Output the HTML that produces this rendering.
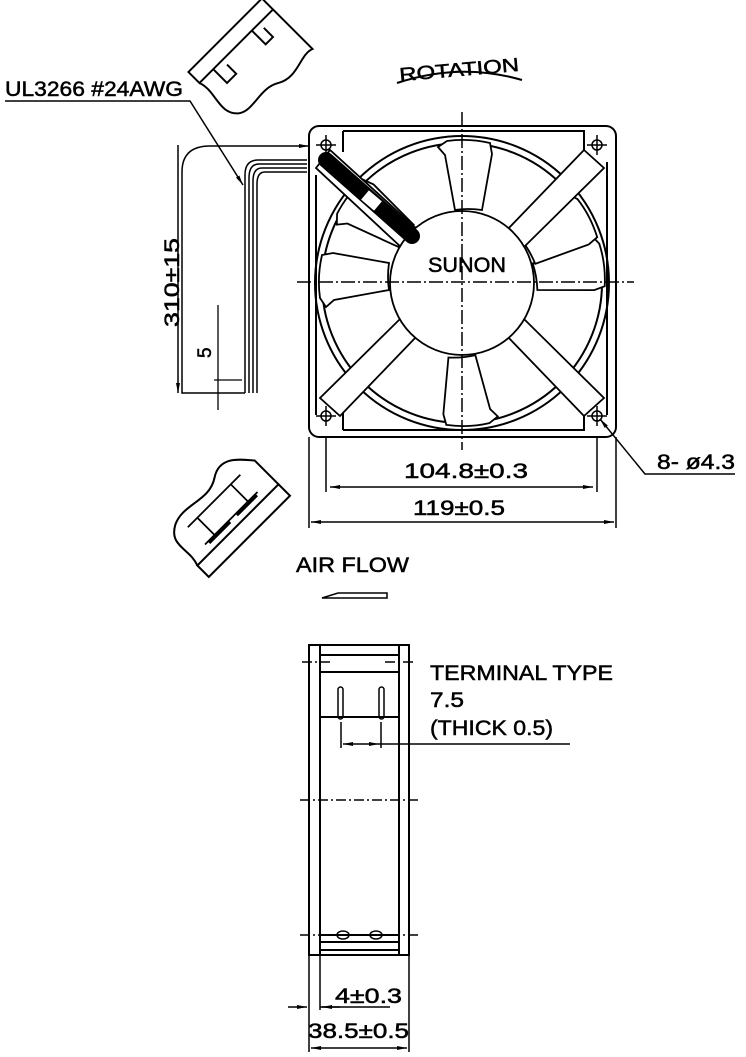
<!DOCTYPE html>
<html><head><meta charset="utf-8"><style>
html,body{margin:0;padding:0;background:#fff}
svg{display:block}
text{font-family:"Liberation Sans",Arial,sans-serif;fill:#000;stroke:#000;stroke-width:0.5}
</style></head><body>
<svg width="746" height="1057" viewBox="0 0 746 1057" xmlns="http://www.w3.org/2000/svg">
<defs>
<marker id="ar" markerWidth="10" markerHeight="6" refX="10" refY="3" orient="auto-start-reverse" markerUnits="userSpaceOnUse"><path d="M0,1 L10,3 L0,5 Z" fill="#000"/></marker>
</defs>
<g fill="none" stroke="#000" stroke-width="2">
<rect x="309" y="126" width="307" height="311" rx="10"/>
<path d="M343,131 H584 V152 M343,131 V152 M316,175 V415 M607,162 V415 M343,430 H584 V412 M343,430 V412"/>
<circle cx="462" cy="283" r="147"/>
<circle cx="462" cy="283" r="140"/>
<g stroke-width="1.8" fill="#fff">
<path id="bl" d="M447,141 L438,147 L445,155 L455,210 Q468,208 482,210 L492,154 L490,143 Q468,138 447,141 Z"/>
<use href="#bl" transform="rotate(-90 462 283)"/>
<use href="#bl" transform="rotate(-55 462 283)"/>
<use href="#bl" transform="rotate(80 462 283)"/>
<use href="#bl" transform="rotate(60 462 283)"/>
<use href="#bl" transform="rotate(175 462 283)"/>
</g>
<g fill="#fff" stroke-width="1.8">
<polygon points="584,150 604,168 523,248 507,230"/>
<polygon points="584,416 604,398 523,318 507,336"/>
<polygon points="340,416 320,398 401,318 417,336"/>
<polygon points="316,168 330,150 418,230 402,248"/>
</g>
<circle cx="462" cy="283" r="72" fill="#fff" stroke-width="1.8"/>
<g stroke-width="1.5"><circle cx="326" cy="145" r="5"/><circle cx="597" cy="145" r="5"/><circle cx="326" cy="416" r="5"/><circle cx="597" cy="416" r="5"/>
<path d="M316,145H336M326,135V155M587,145H607M597,135V155M316,416H336M326,406V426M587,416H607M597,406V426"/></g>
<path d="M462,112 V450 M297,282 H634" stroke-width="1.5" stroke-dasharray="14,3,2,3"/>
<path d="M326,160 L412,236" stroke-width="16" stroke-linecap="round"/>
<path d="M365,195 L378,206" stroke="#fff" stroke-width="12"/>
<path d="M326,437 V492 M597,437 V492 M309,437 V528 M616,437 V528" stroke-width="1.5"/>
<path d="M330,487 H593" stroke-width="1.5" marker-start="url(#ar)" marker-end="url(#ar)"/>
<path d="M311,522 H614" stroke-width="1.5" marker-start="url(#ar)" marker-end="url(#ar)"/>
<path d="M600,419 L645,474 H735" stroke-width="1.5" marker-start="url(#ar)"/>
<path d="M309,146 H210 Q182,146 182,172 V393 H245" stroke-width="1.5" marker-start="url(#ar)"/>
<path d="M307,160 H258 Q245,160 245,175 V393 M307,164 H259 Q249,164 249,178 V393 M307,168 H262 Q253,168 253,181 V393 M307,172 H265 Q257,172 257,184 V393" stroke-width="1.5"/>
<path d="M178,145 V393" stroke-width="1.5" marker-end="url(#ar)"/>
<path d="M218,305 V410 M214,380 H242" stroke-width="1.3"/>
<path d="M5,101 H190 L243,185" stroke-width="1.5" marker-end="url(#ar)"/>
<path d="M397,83 Q460,62 522,80" stroke-width="2"/>
<g transform="translate(250,60) scale(1.3) rotate(-45) translate(-245,-72)" stroke-width="1.5">
<rect x="205" y="45" width="80" height="12"/>
<path d="M205,57 C210,70 198,85 210,95 C220,102 235,92 248,100 C262,108 275,96 285,100 V57"/>
<path d="M220,57 V72 H230 V62 M262,57 V72 H270 V62"/>
</g>
<g transform="translate(226,512) scale(1.35) rotate(-45) translate(-228,-512)" stroke-width="1.5">
<rect x="185" y="525" width="85" height="12"/>
<path d="M185,525 C190,512 180,500 195,492 C210,485 225,498 240,488 C255,478 265,495 270,500 V525"/>
<path d="M200,518 H255 M200,500 H255 M210,500 V520 M245,500 V520" stroke-width="1.3"/>
<path d="M203,519 H225 M232,519 H253" stroke-width="3"/>
</g>
<path d="M322,598 L338,593 H387 V598 Z" stroke-width="1.5"/>
<rect x="309" y="645" width="100" height="310"/>
<path d="M320,645 V955 M399,645 V955 M320,655 H399 M320,672 H399 M320,717 H399 M320,935 H399 M320,942 H399 M320,950 H399"/>
<path d="M302,662 H330 M385,662 H415 M300,800 H418 M300,935 H418" stroke-width="1.5" stroke-dasharray="10,3,2,3"/>
<rect x="338" y="687" width="5" height="32" rx="2.5" stroke-width="1.5"/>
<rect x="379" y="687" width="5" height="32" rx="2.5" stroke-width="1.5"/>
<ellipse cx="343" cy="935" rx="6" ry="4" stroke-width="1.5"/><ellipse cx="376" cy="935" rx="6" ry="4" stroke-width="1.5"/>
<path d="M341,722 V748 M381,722 V748" stroke-width="1.5"/>
<path d="M343,744 H379" stroke-width="1.5" marker-start="url(#ar)" marker-end="url(#ar)"/>
<path d="M379,744 H570" stroke-width="1.5"/>
<path d="M309,955 V1052 M409,955 V1052 M320,955 V1010" stroke-width="1.5"/>
<path d="M320,1007 H390" stroke-width="1.5"/>
<path d="M288,1007 H307" stroke-width="1.5" marker-end="url(#ar)"/>
<path d="M340,1007 H322" stroke-width="1.5" marker-end="url(#ar)"/>
<path d="M311,1048 H407" stroke-width="1.5" marker-start="url(#ar)" marker-end="url(#ar)"/>
</g>
<g font-size="21">
<text x="5" y="96" textLength="178" lengthAdjust="spacingAndGlyphs">UL3266 #24AWG</text>
<text x="0" y="0" transform="translate(179,327) rotate(-90)" textLength="89" lengthAdjust="spacingAndGlyphs">310±15</text>
<text x="0" y="0" font-size="19" transform="translate(211,358) rotate(-90)">5</text>
<text x="399" y="76" font-size="19" transform="rotate(-5 460 68)" textLength="120" lengthAdjust="spacingAndGlyphs">ROTATION</text>
<text x="428" y="272" textLength="78" lengthAdjust="spacingAndGlyphs">SUNON</text>
<text x="404" y="478" textLength="124" lengthAdjust="spacingAndGlyphs">104.8±0.3</text>
<text x="413" y="515" textLength="92" lengthAdjust="spacingAndGlyphs">119±0.5</text>
<text x="657" y="469" textLength="78" lengthAdjust="spacingAndGlyphs">8- ø4.3</text>
<text x="296" y="572" textLength="113" lengthAdjust="spacingAndGlyphs">AIR FLOW</text>
<text x="430" y="680" textLength="183" lengthAdjust="spacingAndGlyphs">TERMINAL TYPE</text>
<text x="430" y="707" textLength="34" lengthAdjust="spacingAndGlyphs">7.5</text>
<text x="430" y="735" textLength="123" lengthAdjust="spacingAndGlyphs">(THICK 0.5)</text>
<text x="335" y="1003" textLength="67" lengthAdjust="spacingAndGlyphs">4±0.3</text>
<text x="308" y="1038" textLength="101" lengthAdjust="spacingAndGlyphs">38.5±0.5</text>
</g>
</svg>
</body></html>
